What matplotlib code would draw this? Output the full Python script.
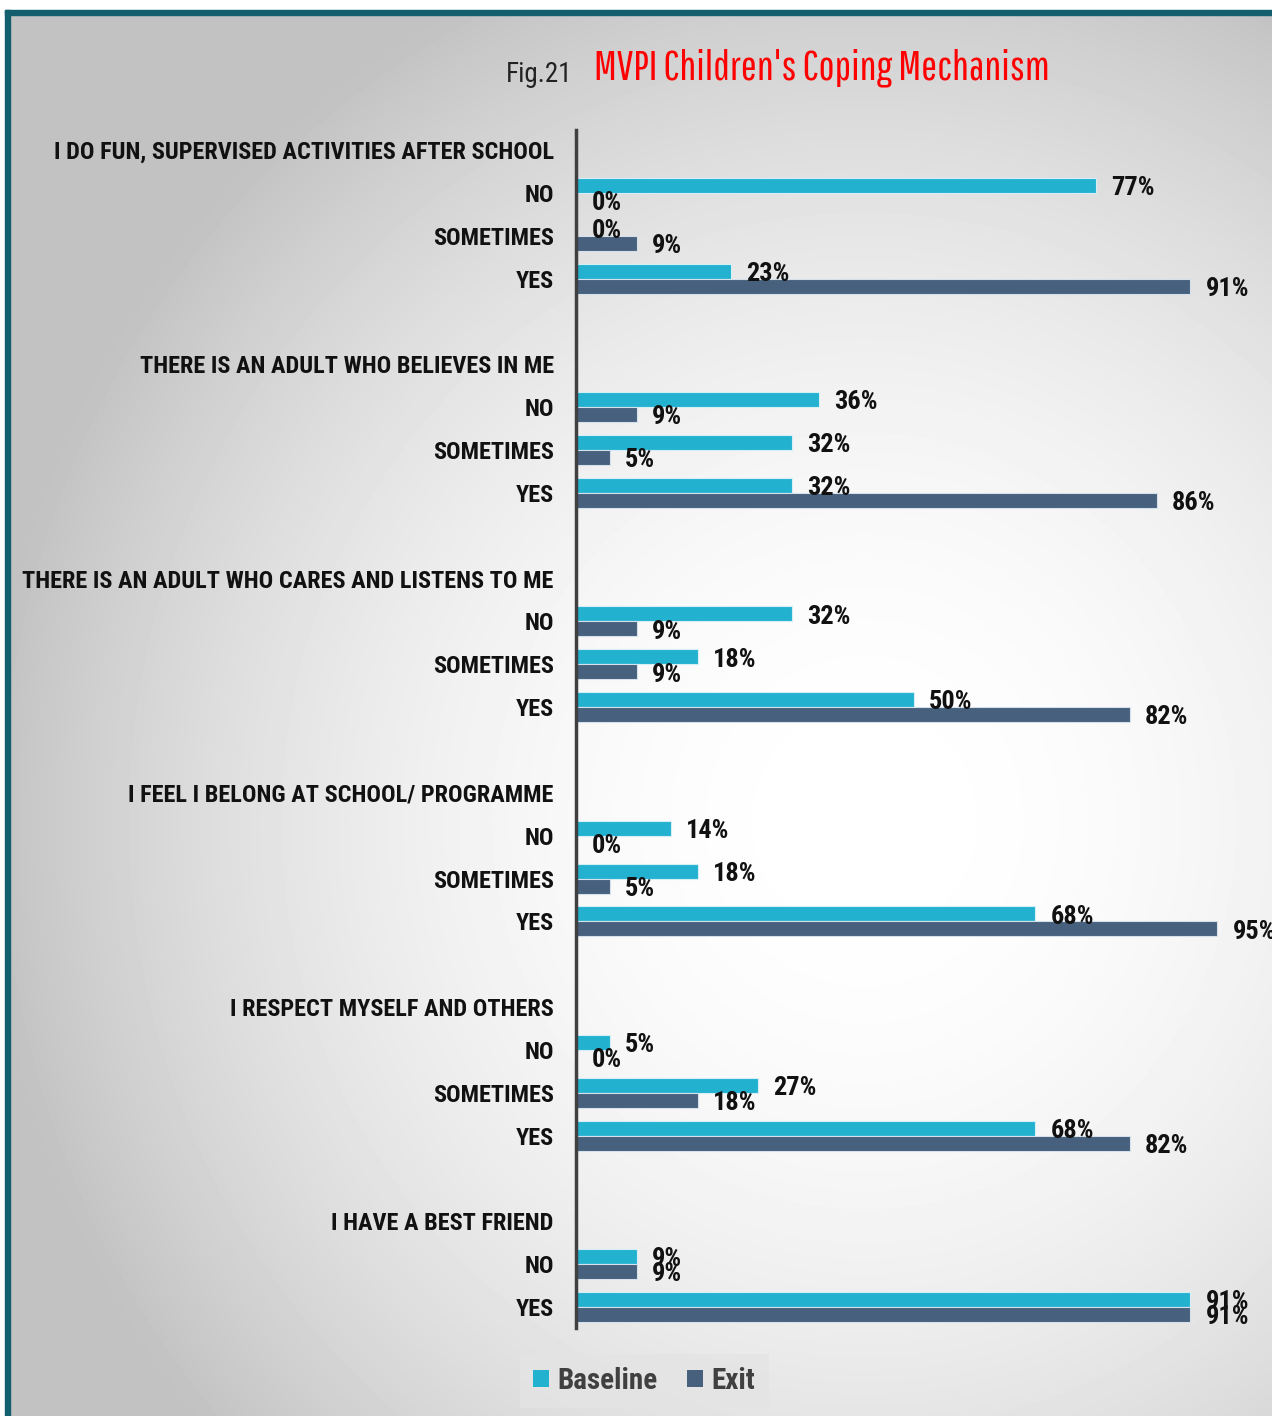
import numpy as np
import matplotlib.pyplot as plt
from matplotlib.patches import Patch, Rectangle

BASE = "#22b2d0"
EXIT = "#46607e"
NARROW = ["Roboto Condensed", "Liberation Sans Narrow", "DejaVu Sans"]
TITLE_FONT = ["Pathway Gothic One", "Oswald", "DejaVu Sans"]

questions = [
    "I DO FUN, SUPERVISED ACTIVITIES AFTER SCHOOL",
    "THERE IS AN ADULT WHO BELIEVES IN ME",
    "THERE IS AN ADULT WHO CARES AND LISTENS TO ME",
    "I FEEL I BELONG AT SCHOOL/ PROGRAMME",
    "I RESPECT MYSELF AND OTHERS",
    "I HAVE A BEST FRIEND",
]
answers = [
    ["NO", "SOMETIMES", "YES"],
    ["NO", "SOMETIMES", "YES"],
    ["NO", "SOMETIMES", "YES"],
    ["NO", "SOMETIMES", "YES"],
    ["NO", "SOMETIMES", "YES"],
    ["NO", "YES"],
]
baseline = [[77, 0, 23], [36, 32, 32], [32, 18, 50], [14, 18, 68], [5, 27, 68], [9, 91]]
exit_vals = [[0, 9, 91], [9, 5, 86], [9, 9, 82], [0, 5, 95], [0, 18, 82], [9, 91]]

# lay out rows: question header, its answers, then a blank spacer row
tick_pos, tick_lab = [], []
bar_pos, b_vals, e_vals = [], [], []
row = 0
for q, ans, b, e in zip(questions, answers, baseline, exit_vals):
    tick_pos.append(row)
    tick_lab.append(q)
    row += 1
    for a, bv, ev in zip(ans, b, e):
        tick_pos.append(row)
        tick_lab.append(a)
        bar_pos.append(row)
        b_vals.append(bv)
        e_vals.append(ev)
        row += 1
    row += 1
bar_pos = np.array(bar_pos)

fig = plt.figure(figsize=(12.72, 14.16), dpi=100)

# grey radial backdrop inside a teal frame
bg = fig.add_axes([0, 0, 1, 1], zorder=-10)
gx, gy = np.meshgrid(np.linspace(0, 1, 400), np.linspace(0, 1, 400))
r2 = ((gx - 0.68) / 0.8) ** 2 + ((gy - 0.58) / 0.75) ** 2
shade = np.clip(1.0 - 0.32 * r2, 0.76, 1.0)
bg.imshow(shade, cmap="gray", vmin=0, vmax=1, extent=[0, 1, 0, 1],
          origin="upper", aspect="auto", interpolation="bilinear")
bg.add_patch(Rectangle((0, 1 - 10 / 1416), 1, 10 / 1416, color="white"))
bg.add_patch(Rectangle((0, 0), 5 / 1272, 1, color="white"))
bg.add_patch(Rectangle((5 / 1272, 1 - 15 / 1416), 1, 5 / 1416, color="#145f6e"))
bg.add_patch(Rectangle((5 / 1272, 0), 5 / 1272, 1 - 10 / 1416, color="#145f6e"))
bg.set_xlim(0, 1)
bg.set_ylim(0, 1)
bg.axis("off")

ax = fig.add_axes([576 / 1272, 1 - 1328 / 1416, 675 / 1272, 1198 / 1416])
ax.patch.set_alpha(0)
h = 0.35
ax.barh(bar_pos - h / 2, b_vals, height=h, color=BASE,
        edgecolor="#d6eef5", linewidth=0.8)
ax.barh(bar_pos + h / 2, e_vals, height=h, color=EXIT,
        edgecolor="#d6e0ea", linewidth=0.8)

# value labels just right of each bar end
for shift, vals in ((-h / 2, b_vals), (h / 2, e_vals)):
    for y, v in zip(bar_pos + shift, vals):
        ax.annotate(f"{v}%", (v, y), xytext=(11, -2), textcoords="offset points",
                    ha="left", va="center", fontsize=19, fontweight="bold",
                    family=NARROW, color="#111111")

ax.set_xlim(0, 100)
ax.set_ylim(row - 2 + 0.49, -0.47)
ax.set_yticks(tick_pos)
ax.set_yticklabels(tick_lab, fontsize=17.5, fontweight="bold", family=NARROW,
                   color="#111111")
ax.tick_params(axis="y", length=0, pad=16)
ax.set_xticks([])
for s in ("top", "right", "bottom"):
    ax.spines[s].set_visible(False)
ax.spines["left"].set_color("#404040")
ax.spines["left"].set_linewidth(2.5)

fig.text(572 / 1272, 1 - 74 / 1416, "Fig.21", ha="right", va="center",
         fontsize=19.5, family=NARROW, color="#222222")
fig.text(594 / 1272, 1 - 68 / 1416, "MVPI Children's Coping Mechanism",
         ha="left", va="center", fontsize=30.5, family=TITLE_FONT, color="#ff0000")

handles = [Patch(facecolor=BASE, label="Baseline"), Patch(facecolor=EXIT, label="Exit")]
leg = fig.legend(handles=handles, loc="center", bbox_to_anchor=(644 / 1272, 1 - 1381 / 1416),
                 ncol=2, frameon=True, fancybox=False, handlelength=0.55,
                 handleheight=0.55, handletextpad=0.3, columnspacing=1.0,
                 borderpad=0.45, prop={"family": NARROW, "weight": "bold", "size": 21})
leg.get_frame().set_facecolor("#e4e4e4")
leg.get_frame().set_edgecolor("none")
for t in leg.get_texts():
    t.set_color("#404040")

fig.savefig("out.png", dpi=100)
